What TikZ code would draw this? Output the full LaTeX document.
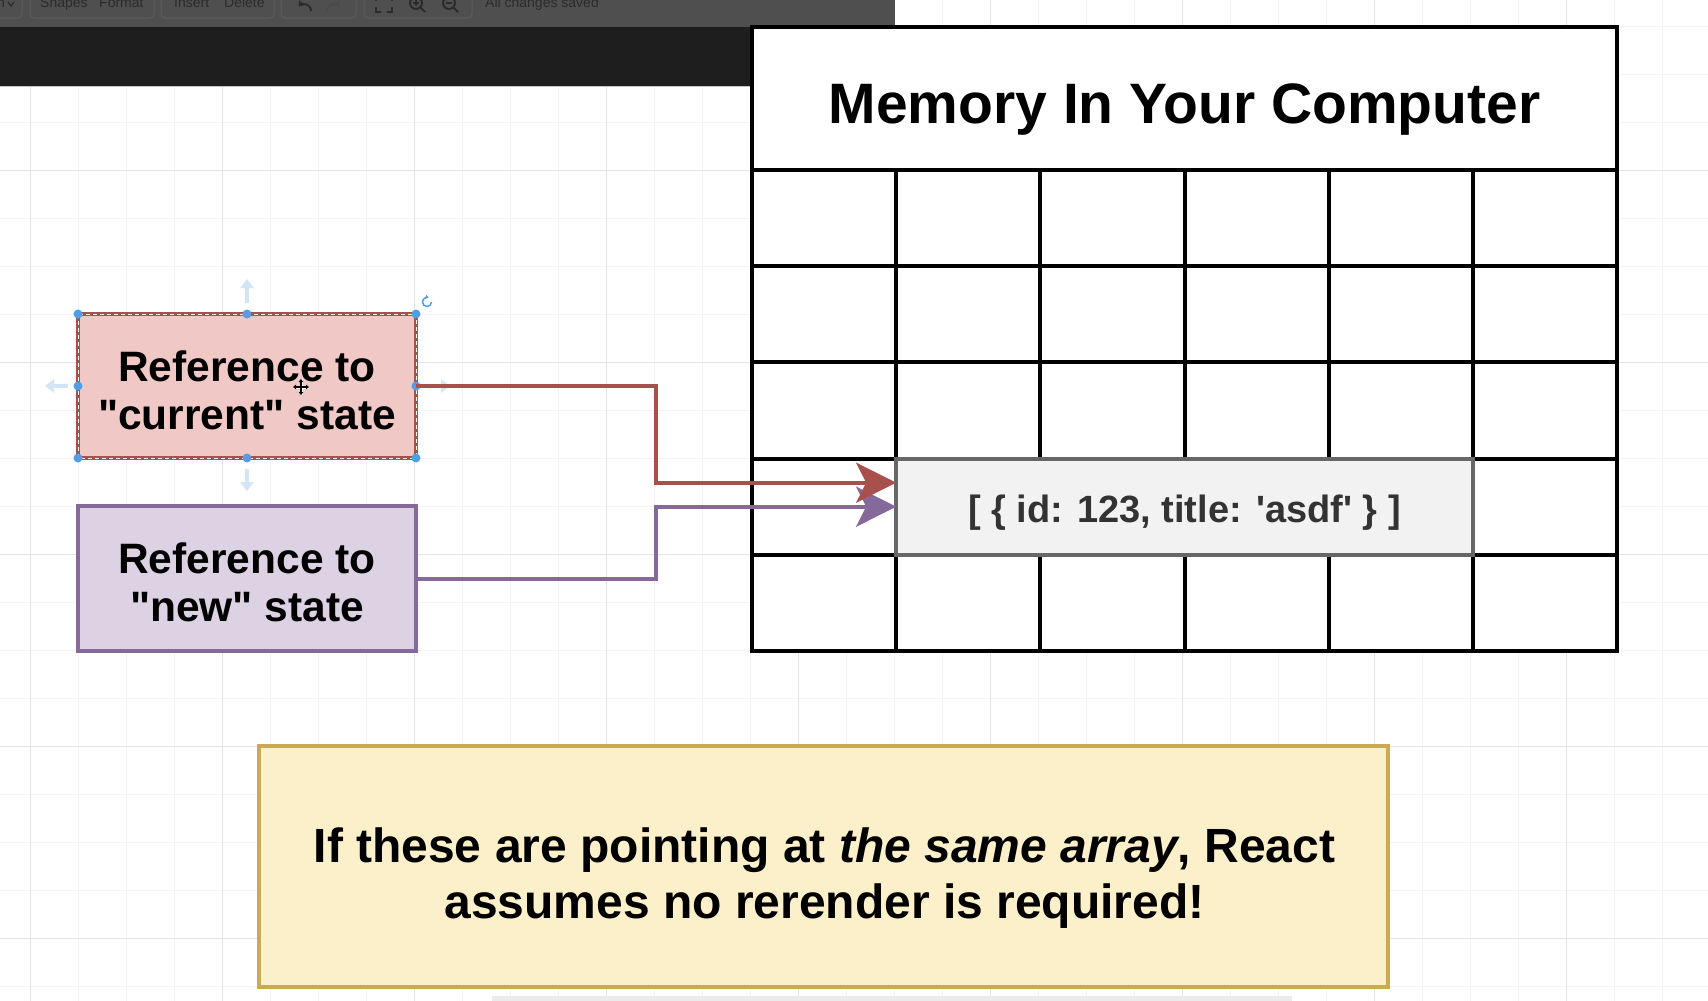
\documentclass[tikz,border=0pt]{standalone}
\usepackage{fontspec}
\setmainfont{Liberation Sans}
\usetikzlibrary{arrows.meta,calc}
\definecolor{tbgray}{HTML}{4F4F4F}
\definecolor{tbtext}{HTML}{2B2B2B}
\definecolor{tbline}{HTML}{5C5C5C}
\definecolor{band}{HTML}{1E1E1E}
\definecolor{gridmaj}{HTML}{E3E3E3}
\definecolor{gridmin}{HTML}{F3F3F3}
\definecolor{redfill}{HTML}{F0C8C5}
\definecolor{redline}{HTML}{A8514C}
\definecolor{purfill}{HTML}{DDD1E4}
\definecolor{purline}{HTML}{84699A}
\definecolor{yelfill}{HTML}{FBF0CA}
\definecolor{yelline}{HTML}{C9AB57}
\definecolor{cellfill}{HTML}{F2F2F2}
\definecolor{cellline}{HTML}{676767}
\definecolor{celltext}{HTML}{333333}
\definecolor{handle}{HTML}{4F9EE6}
\definecolor{hint}{HTML}{D2E5F6}
\definecolor{scrollc}{HTML}{EBEBEB}
\begin{document}
\begin{tikzpicture}[x=1pt,y=-1pt,
  membox/.style={draw=black, fill=white, line width=4pt, minimum width=865pt, minimum height=624pt, inner sep=0pt, outer sep=0pt},
  memline/.style={draw=black, line width=4pt},
  arrcell/.style={draw=cellline, fill=cellfill, line width=4pt, minimum width=576.7pt, minimum height=96.2pt, inner sep=0pt, outer sep=0pt},
  arrtxt/.style={text=celltext, inner sep=0pt, font=\fontsize{38}{46}\selectfont\bfseries},
  titletxt/.style={text=black, inner sep=0pt, font=\fontsize{57}{68}\selectfont\bfseries},
  curbox/.style={draw=redline, fill=redfill, line width=4pt, minimum width=338pt, minimum height=144pt, inner sep=0pt, outer sep=0pt},
  newbox/.style={draw=purline, fill=purfill, line width=4pt, minimum width=338pt, minimum height=145pt, inner sep=0pt, outer sep=0pt},
  boxtxt/.style={text=black, inner sep=0pt, font=\fontsize{42.5}{48}\selectfont\bfseries},
  notebox/.style={draw=yelline, fill=yelfill, line width=4pt, minimum width=1129pt, minimum height=241pt, inner sep=0pt, outer sep=0pt},
  notetxt/.style={text=black, inner sep=0pt, font=\fontsize{48}{58}\selectfont\bfseries},
  redconn/.style={draw=redline, line width=4pt, -{Stealth[length=40pt,width=40pt,inset=10pt]}},
  purconn/.style={draw=purline, line width=4pt, -{Stealth[length=40pt,width=40pt,inset=10pt]}},
  hintarrow/.style={draw=hint, line width=4pt, -{Triangle[length=9pt,width=13pt]}},
  tbtxt/.style={text=tbtext, inner sep=0pt, font=\fontsize{14}{16}\selectfont},
  tbicon/.style={draw=tbtext, line width=2pt},
  tbbtn/.style={draw=tbline, line width=1pt, rounded corners=4pt}
]
\useasboundingbox (0,0) rectangle (1708,1001);
\fill[white] (0,0) rectangle (1708,1001);
% background grid
\foreach \i in {0,...,35} \draw[gridmin, line width=1pt] ({30.5+48*\i},0) -- ({30.5+48*\i},1001);
\foreach \j in {-3,...,17} \draw[gridmin, line width=1pt] (0,{170+48*\j}) -- (1708,{170+48*\j});
\foreach \i in {0,...,8} \draw[gridmaj, line width=1pt] ({30.5+192*\i},0) -- ({30.5+192*\i},1001);
\foreach \j in {0,...,4} \draw[gridmaj, line width=1pt] (0,{170+192*\j}) -- (1708,{170+192*\j});
% toolbar
\fill[tbgray] (0,0) rectangle (895,27);
\fill[band] (0,27) rectangle (752,86);
\draw[gray!45, line width=1pt] (0,86.5) -- (752,86.5);
\draw[tbbtn] (-10,-10) rectangle (22,18);
\draw[tbbtn] (30,-10) rectangle (154,18);
\draw[tbbtn] (161,-10) rectangle (274,18);
\draw[tbbtn] (281,-10) rectangle (356,18);
\draw[tbbtn] (364,-10) rectangle (472,18);
\node[tbtxt, anchor=base west] (tbn) at (-3,8) {n};
\draw[tbicon, line width=1.2pt] (8,2) -- (11,6) -- (14,2);
\node[tbtxt, anchor=base west] (tbshapes) at (40,8) {Shapes};
\node[tbtxt, anchor=base west] (tbformat) at (99,8) {Format};
\node[tbtxt, anchor=base west] (tbinsert) at (174,8) {Insert};
\node[tbtxt, anchor=base west] (tbdelete) at (224,8) {Delete};
\node[tbtxt, anchor=base west] (tbsaved) at (485,8) {All changes saved};
\draw[tbicon, -{Triangle[length=5pt,width=7pt]}] (311,11) arc[start angle=0, end angle=-140, radius=7];
\draw[tbicon, draw=tbline!80!black, -{Triangle[length=5pt,width=7pt]}] (327,11) arc[start angle=180, end angle=320, radius=7];
\draw[tbicon] (376,7) -- (376,12) -- (381,12);
\draw[tbicon] (392,7) -- (392,12) -- (387,12);
\draw[tbicon] (376,1) -- (376,-3);
\draw[tbicon] (392,1) -- (392,-3);
\draw[tbicon] (416,3) circle[radius=6];
\draw[tbicon] (420.5,7.5) -- (425,12);
\draw[tbicon, line width=1.4pt] (413,3) -- (419,3) (416,0) -- (416,6);
\draw[tbicon] (449,3) circle[radius=6];
\draw[tbicon] (453.5,7.5) -- (458,12);
\draw[tbicon, line width=1.4pt] (446,3) -- (452,3);
% memory box
\node[membox] (mem) at (1184.5,339) {};
\node[titletxt, anchor=base] (title) at (1184.5,123) {Memory In Your Computer};
\foreach \r in {0,...,4} \draw[memline] (752,{170+96.2*\r}) -- (1617,{170+96.2*\r});
\foreach \c in {1,...,5} \draw[memline] ({752+144.17*\c},170) -- ({752+144.17*\c},651);
\node[arrcell] (arr) at (1184.5,506.7) {};
\node[arrtxt, anchor=base] (arrt) at (1184.5,522) {[ \{ id: 123, title: \textquotesingle asdf\textquotesingle\ \} ]};
% reference boxes
\node[curbox] (cur) at (247,386) {};
\node[boxtxt, anchor=base] (curl1) at (247,381) {Reference to};
\node[boxtxt, anchor=base] (curl2) at (247,429) {\textquotedbl current\textquotedbl\ state};
\node[newbox] (new) at (247,578.5) {};
\node[boxtxt, anchor=base] (newl1) at (247,573.5) {Reference to};
\node[boxtxt, anchor=base] (newl2) at (247,621.5) {\textquotedbl new\textquotedbl\ state};
% selection decorations
\draw[white, line width=1pt, dash pattern=on 4pt off 3pt] (cur.north west) rectangle (cur.south east);
\draw[hintarrow] ([yshift=11pt]cur.north) -- ([yshift=35pt]cur.north);
\draw[hintarrow] ([yshift=-11pt]cur.south) -- ([yshift=-33pt]cur.south);
\draw[hintarrow] ([xshift=-10pt]cur.west) -- ([xshift=-33pt]cur.west);
\draw[hintarrow] ([xshift=12pt]cur.east) -- ([xshift=34pt]cur.east);
\foreach \a in {north west, north, north east, east, south east, south, south west, west}
  \fill[handle] (cur.\a) circle[radius=4.5];
\coordinate (rot) at ([xshift=11pt,yshift=12pt]cur.north east);
\draw[handle, line width=1.5pt, -{Triangle[length=3pt,width=4pt]}] ($(rot)+(4.5,0)$) arc[start angle=0, end angle=290, radius=4.5];
% move cursor
\coordinate (mv) at (301,387);
\draw[white, line width=3pt] ($(mv)+(-8,0)$) -- ($(mv)+(8,0)$) ($(mv)+(0,-8)$) -- ($(mv)+(0,8)$);
\draw[black, line width=1.1pt, {Triangle[length=3pt,width=4.5pt]}-{Triangle[length=3pt,width=4.5pt]}] ($(mv)+(-8,0)$) -- ($(mv)+(8,0)$);
\draw[black, line width=1.1pt, {Triangle[length=3pt,width=4.5pt]}-{Triangle[length=3pt,width=4.5pt]}] ($(mv)+(0,-8)$) -- ($(mv)+(0,8)$);
% connectors
\draw[purconn] (new.east) -- ++(240,0) |- (arr.west);
\draw[redconn] (cur.east) -- ++(240,0) |- ([yshift=24pt]arr.west);
% note
\node[notebox] (note) at (823.5,866.5) {};
\node[notetxt, anchor=base] (notel1) at (824.5,862) {If these are pointing at \textit{the same array}, React};
\node[notetxt, anchor=base] (notel2) at (824.5,918) {assumes no rerender is required!};
% scrollbar
\fill[scrollc] (492,996) rectangle (1292,1001);
\end{tikzpicture}
\end{document}
